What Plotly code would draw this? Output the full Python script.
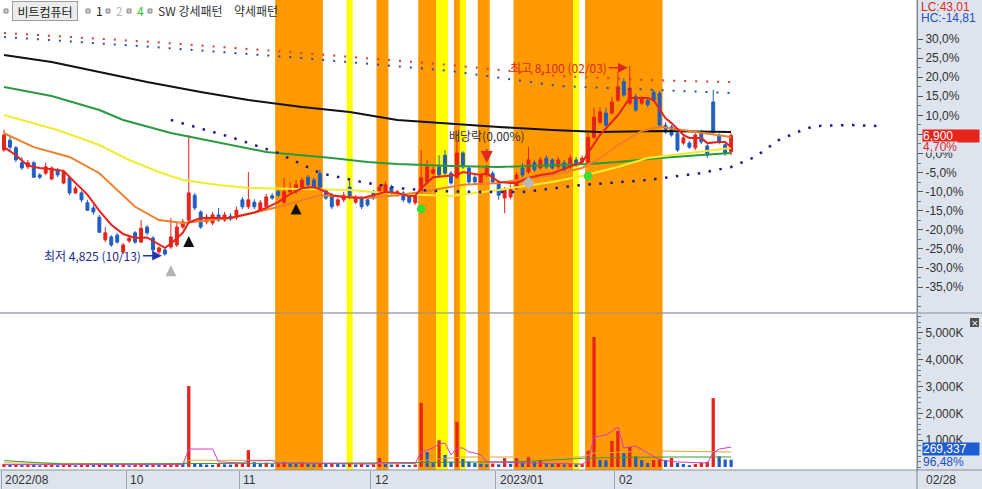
import plotly.graph_objects as go

# ---------------- data ----------------
month_labels = ["2022/08", "10", "11", "12", "2023/01", "02"]
month_start_idx = [0, 21, 40, 62, 83, 103]
last_date_label = "02/28"

opens = [6650, 6820, 6690, 6430, 6360, 6430, 6220, 6250, 6150, 6310,
         6080, 6170, 5910, 5910, 5740, 5650, 5490, 5100, 5150, 5180,
         4890, 5080, 5220, 5060, 5320, 5130, 4890, 4925, 4975, 5010,
         5320, 5440, 5870, 5580, 5410, 5390, 5530, 5440, 5510, 5480,
         5790, 5670, 5750, 5610, 5670, 5860, 5930, 5750, 5930, 5930,
         6010, 6180, 6130, 6250, 5960, 5870, 5700, 5790, 6010, 5750,
         5820, 5790, 5930, 5930, 5930, 6010, 5870, 5910, 5870, 5740,
         5930, 6100, 6250, 6360, 6560, 6250, 6180, 6600, 6340, 6180,
         6080, 6220, 6250, 6100, 5820, 5840, 5990, 6340, 6270, 6430,
         6340, 6510, 6480, 6360, 6430, 6360, 6480, 6440, 6440, 6870,
         7130, 7290, 7290, 7510, 7830, 7460, 7570, 7460, 7510, 7650,
         7630, 7080, 7050, 6940, 6770, 6770, 6690, 6960, 6720, 7480,
         6910, 6740, 6620]
highs = [7000, 6880, 6720, 6530, 6480, 6460, 6250, 6430, 6370, 6340,
         6310, 6200, 6030, 5940, 5790, 5700, 5530, 5320, 5180, 5220,
         5045, 5165, 5250, 5440, 5355, 5165, 4990, 4960, 5475, 5410,
         5460, 6910, 5910, 5610, 5545, 5580, 5650, 5580, 5560, 5670,
         5840, 6270, 5800, 5790, 5890, 5910, 5990, 6170, 6100, 6130,
         6180, 6220, 6170, 6310, 5990, 5910, 5820, 5930, 6130, 5870,
         5860, 5820, 5960, 6060, 6100, 6050, 5960, 5940, 5910, 5910,
         6650, 6480, 6360, 6560, 6650, 6290, 6820, 6630, 6370, 6220,
         6250, 6390, 6290, 6130, 6010, 6050, 6270, 6430, 6700, 6480,
         6530, 6560, 6510, 6530, 6480, 6560, 6530, 6560, 6940, 7380,
         7390, 7380, 7570, 8000, 7890, 8100, 7620, 7580, 7550, 7690,
         7670, 7130, 7080, 6980, 6890, 6810, 6940, 7000, 6750, 7690,
         6940, 6770, 6940]
lows = [6620, 6650, 6440, 6310, 6320, 6170, 6150, 6220, 6130, 6180,
        6060, 5870, 5890, 5750, 5600, 5530, 5220, 5060, 4975, 5030,
        4855, 5045, 5030, 5045, 5180, 4890, 4855, 4825, 4940, 4975,
        5285, 5410, 5610, 5290, 5370, 5355, 5410, 5410, 5425, 5440,
        5630, 5630, 5630, 5580, 5630, 5790, 5840, 5720, 5890, 5890,
        5980, 6010, 5960, 5980, 5790, 5630, 5670, 5750, 5800, 5720,
        5630, 5670, 5790, 5890, 5890, 5870, 5840, 5750, 5720, 5700,
        5890, 6060, 6220, 6180, 6220, 6050, 6150, 6320, 6060, 6060,
        6050, 6180, 6060, 5790, 5560, 5800, 5960, 6180, 6240, 6270,
        6310, 6320, 6310, 6320, 6270, 6320, 6360, 6410, 6410, 6840,
        7100, 7050, 7260, 7480, 7570, 7430, 7310, 7430, 7390, 7480,
        7050, 6930, 6880, 6620, 6740, 6670, 6650, 6750, 6510, 6930,
        6750, 6550, 6560]
closes = [6910, 6700, 6480, 6340, 6430, 6180, 6180, 6360, 6340, 6220,
          6270, 5910, 5990, 5790, 5610, 5580, 5230, 5220, 5010, 5060,
          5010, 5130, 5060, 5300, 5220, 4925, 4960, 4855, 5150, 5320,
          5410, 5910, 5650, 5320, 5490, 5530, 5440, 5530, 5460, 5610,
          5670, 5790, 5670, 5740, 5840, 5820, 5870, 5930, 5990, 6050,
          6130, 6050, 5990, 6010, 5820, 5670, 5790, 5870, 5840, 5840,
          5670, 5700, 5820, 6010, 6050, 5910, 5930, 5790, 5750, 5870,
          6170, 6360, 6310, 6220, 6250, 6080, 6600, 6360, 6100, 6100,
          6220, 6360, 6100, 5870, 5960, 5990, 6220, 6220, 6480, 6310,
          6480, 6360, 6340, 6480, 6310, 6510, 6390, 6510, 6870, 7220,
          7310, 7080, 7480, 7740, 7600, 7720, 7340, 7550, 7430, 7510,
          7080, 6960, 6910, 6650, 6860, 6700, 6910, 6790, 6560, 6960,
          6790, 6590, 6900]
volumes = [110000, 80000, 95000, 70000, 85000, 75000, 60000, 80000, 95000, 65000,
           70000, 100000, 60000, 75000, 85000, 70000, 120000, 100000, 110000, 70000,
           90000, 60000, 80000, 105000, 75000, 95000, 70000, 90000, 130000, 150000,
           120000, 3020000, 130000, 110000, 90000, 80000, 120000, 100000, 90000, 110000,
           150000, 630000, 180000, 130000, 160000, 110000, 120000, 190000, 150000, 130000,
           170000, 120000, 100000, 140000, 130000, 150000, 110000, 100000, 140000, 90000,
           110000, 80000, 100000, 336000, 110000, 90000, 100000, 80000, 70000, 90000,
           2390000, 560000, 150000, 1000000, 450000, 200000, 1680000, 300000, 200000, 150000,
           120000, 100000, 130000, 100000, 330000, 120000, 330000, 180000, 400000, 200000,
           260000, 150000, 120000, 140000, 100000, 120000, 100000, 110000, 600000, 4850000,
           260000, 250000, 970000, 1340000, 520000, 750000, 400000, 260000, 150000, 260000,
           300000, 260000, 340000, 150000, 110000, 70000, 110000, 150000, 190000, 2570000,
           400000, 280000, 269337]

# moving-average lines (index, price)
ma5_idx = [0, 2, 4, 6, 8, 10, 12, 14, 16, 18, 20, 22, 24, 26, 27, 28, 30, 31, 33, 38,
           42, 44, 46, 48, 50, 52, 54, 55, 57, 60, 64, 66, 68, 69, 70, 72, 76, 77, 80, 81,
           83, 85, 86, 88, 90, 92, 95, 97, 98, 100, 103, 105, 108, 109, 111, 112, 114, 115, 117, 118,
           120, 121, 122]
ma5_val = [6700, 6560, 6380, 6340, 6320, 6290, 6080, 5880, 5600, 5360, 5200, 5130, 5140, 5020, 4960, 5030, 5220, 5400, 5475, 5475,
           5570, 5650, 5750, 5890, 5990, 6010, 5930, 5870, 5840, 5820, 5925, 5910, 5850, 5860, 5990, 6180, 6220, 6270, 6220, 6250,
           6100, 6080, 6080, 6170, 6220, 6250, 6360, 6440, 6600, 6910, 7250, 7550, 7550, 7510, 7200, 7115, 6910, 6860, 6860, 6770,
           6790, 6790, 6700]
ma20_idx = [0, 5, 11, 16, 22, 26, 30, 38, 46, 53, 61, 66, 70, 77, 83, 92, 97, 100, 103, 107, 110, 114, 117, 122]
ma20_val = [6940, 6700, 6530, 6250, 5670, 5440, 5390, 5475, 5665, 5870, 5820, 5870, 5925, 6050, 6080, 6220, 6340, 6510, 6735, 6980, 7050, 6995, 6945, 6875]
ma60_idx = [0, 3, 9, 16, 21, 26, 30, 36, 41, 50, 58, 66, 75, 83, 92, 97, 103, 108, 115, 122]
ma60_val = [7255, 7170, 6996, 6737, 6478, 6270, 6132, 6046, 5994, 5977, 5960, 5890, 5856, 5960, 6098, 6201, 6357, 6512, 6599, 6685]
ma120_idx = [0, 8, 16, 20, 28, 38, 44, 55, 61, 66, 75, 83, 92, 98, 103, 110, 117, 122]
ma120_val = [7738, 7583, 7341, 7169, 6944, 6737, 6616, 6512, 6443, 6409, 6374, 6357, 6391, 6409, 6443, 6512, 6564, 6599]
ma240_idx = [0, 8, 16, 24, 33, 41, 50, 58, 66, 75, 83, 92, 100, 110, 122]
ma240_val = [8291, 8170, 7998, 7825, 7652, 7514, 7393, 7307, 7169, 7100, 7048, 6996, 6961, 6978, 6961]
env_red_idx = [0, 25, 50, 75, 93, 108, 122]
env_red_val = [8671, 8516, 8326, 8118, 7928, 7859, 7825]
env_blue_idx = [0, 25, 50, 75, 93, 108, 122]
env_blue_val = [8602, 8429, 8239, 8015, 7756, 7687, 7635]
lead_idx = [28, 38, 46, 53, 60, 66, 72, 80, 87, 97, 108, 117, 122, 126, 130, 134, 136, 142, 147]
lead_val = [7169, 6875, 6599, 6253, 6098, 5994, 5942, 5925, 5925, 6046, 6132, 6253, 6357, 6530, 6823, 6996, 7065, 7082, 7065]

# volume average lines (index, shares)
vma5_idx = [0, 30, 31, 35, 36, 40, 41, 45, 46, 62, 63, 69, 70, 72, 73, 74, 75, 76, 77, 78, 79, 80, 81,
            97, 98, 99, 101, 103, 104, 106, 108, 110, 113, 118, 119, 120, 122]
vma5_val = [90000, 90000, 670000, 671000, 190000, 150000, 230000, 240000, 150000, 110000, 160000, 140000, 560000, 709000, 858000, 895000, 448000, 709000, 709000, 560000, 522000, 448000, 187000,
            110000, 230000, 1119000, 1194000, 1492000, 709000, 783000, 522000, 261000, 187000, 150000, 522000, 671000, 742000]
vma20_idx = [0, 30, 31, 50, 51, 69, 70, 77, 97, 99, 110, 122]
vma20_val = [150000, 110000, 250000, 250000, 130000, 130000, 240000, 373000, 373000, 522000, 597000, 560000]
vma60_idx = [0, 10, 60, 70, 87, 98, 110, 122]
vma60_val = [235000, 112000, 150000, 160000, 200000, 336000, 373000, 373000]

# background pattern bands (index ranges)
strong_bands = [(46, 53), (63, 64), (70, 72), (76, 76), (80, 81), (86, 95), (98, 110)]
weak_bands = [(58, 58), (73, 74), (77, 77), (96, 96)]

# signal markers
buy_idx, buy_val = [31, 49], [5165, 5726]
low_mark_idx, low_mark_val = [28], [4660]
green_idx, green_val = [70, 98], [5632, 6201]
gray_idx, gray_val = [88], [6081]

prev_close = 6590
pct_ticks = [30, 25, 20, 15, 10, 5, 0, -5, -10, -15, -20, -25, -30, -35]
vol_ticks = [1000000, 2000000, 3000000, 4000000, 5000000]

# ---------------- styling ----------------
RED = "#e8231b"
BLUE = "#1f5fc4"
AXIS_BG = "#dde4ee"
W, H = 982, 489
ML, MR, MT, MB = 0, 65, 0, 19
PW, PH = W - ML - MR, H - MT - MB
XR = [-0.671, 153.19]


def xp(px):
    return px / PW


def yp(py):
    return 1 - py / PH


price_tickvals = [prev_close * (1 + p / 100) for p in pct_ticks]
price_ticktext = [f"{p:.1f}%".replace(".", ",") for p in pct_ticks]
minor_vals = [prev_close * (1 + (p - 2.5) / 100) for p in pct_ticks] + [prev_close * 0.6]
vol_ticktext = [f"{v // 1000:,}K" for v in vol_ticks]
vol_colors = [RED] + [RED if volumes[i] > volumes[i - 1] else BLUE for i in range(1, len(volumes))]
x_idx = list(range(len(closes)))

fig = go.Figure()

fig.add_trace(go.Candlestick(
    x=x_idx, open=opens, high=highs, low=lows, close=closes,
    increasing=dict(line=dict(color=RED, width=1), fillcolor=RED),
    decreasing=dict(line=dict(color=BLUE, width=1), fillcolor=BLUE),
    hoverinfo="skip", showlegend=False, xaxis="x", yaxis="y"))


def line(xs, ys, color, width=2, dash=None, axis=("x", "y")):
    fig.add_trace(go.Scatter(x=xs, y=ys, mode="lines",
                             line=dict(color=color, width=width, dash=dash),
                             hoverinfo="skip", showlegend=False,
                             xaxis=axis[0], yaxis=axis[1]))


line(env_red_idx, env_red_val, "#de3a34", 2, "2px,9px")
line(env_blue_idx, env_blue_val, "#2a4fae", 2, "2px,9px")
line(ma240_idx, ma240_val, "#111111", 2)
line(ma120_idx, ma120_val, "#2a9a3e", 2)
line(ma60_idx, ma60_val, "#f0ec30", 2)
line(ma20_idx, ma20_val, "#f07f2a", 2)
line(lead_idx, lead_val, "#1c1c8c", 2.5, "2.5px,8.5px")
line(ma5_idx, ma5_val, RED, 2)

fig.add_trace(go.Scatter(x=buy_idx, y=buy_val, mode="markers",
                         marker=dict(symbol="arrow-up", size=11, color="#111111"),
                         hoverinfo="skip", showlegend=False))
fig.add_trace(go.Scatter(x=low_mark_idx, y=low_mark_val, mode="markers",
                         marker=dict(symbol="arrow-up", size=11, color="#b4b4b4"),
                         hoverinfo="skip", showlegend=False))
fig.add_trace(go.Scatter(x=green_idx, y=green_val, mode="markers",
                         marker=dict(symbol="octagon", size=9, color="#35dd35"),
                         hoverinfo="skip", showlegend=False))
fig.add_trace(go.Scatter(x=gray_idx, y=gray_val, mode="markers",
                         marker=dict(symbol="diamond", size=10, color="#b8b8b8"),
                         hoverinfo="skip", showlegend=False))

fig.add_trace(go.Bar(x=x_idx, y=volumes, width=0.55, marker=dict(color=vol_colors, line=dict(width=0)),
                     hoverinfo="skip", showlegend=False, xaxis="x2", yaxis="y2"))
line(vma20_idx, vma20_val, "#e3a43a", 1, None, ("x2", "y2"))
line(vma60_idx, vma60_val, "#3d9a3d", 1, None, ("x2", "y2"))
line(vma5_idx, vma5_val, "#d23cc2", 1, None, ("x2", "y2"))

shapes = []
for a, b in strong_bands:
    shapes.append(dict(type="rect", xref="x", yref="paper", x0=a - 0.5, x1=b + 0.5, y0=0, y1=1,
                       fillcolor="#ff9900", line=dict(width=0), layer="below"))
for a, b in weak_bands:
    shapes.append(dict(type="rect", xref="x", yref="paper", x0=a - 0.5, x1=b + 0.5, y0=0, y1=1,
                       fillcolor="#ffff00", line=dict(width=0), layer="below"))
# frame lines
shapes.append(dict(type="line", xref="paper", yref="paper", x0=0, x1=W / PW, y0=yp(313), y1=yp(313),
                   line=dict(color="#8c8f96", width=1)))
shapes.append(dict(type="line", xref="paper", yref="paper", x0=1, x1=1, y0=-MB / PH, y1=1,
                   line=dict(color="#7d8796", width=1)))
shapes.append(dict(type="line", xref="paper", yref="paper", x0=0, x1=W / PW, y0=0, y1=0,
                   line=dict(color="#8c8f96", width=1)))
# header little squares
for px in [4, 86, 106, 127, 148]:
    shapes.append(dict(type="rect", xref="paper", yref="paper", x0=xp(px), x1=xp(px + 4),
                       y0=yp(13), y1=yp(9), fillcolor="#c9c9c9", line=dict(color="#8a8a8a", width=1)))
# close button of the volume pane
shapes.append(dict(type="rect", xref="paper", yref="paper", x0=xp(970), x1=xp(979),
                   y0=yp(327), y1=yp(318), fillcolor="#4d4d4d", line=dict(width=0)))

ann = []
KFONT = "Noto Sans CJK KR"
NFONT = "Liberation Sans"
for lab, idx in zip(month_labels, month_start_idx):
    ann.append(dict(x=idx - 0.5, xref="x2", y=0, yref="paper", yanchor="top", xanchor="left",
                    xshift=2, yshift=-1, text=lab, showarrow=False,
                    font=dict(family=NFONT, size=12, color="#333333")))
ann.append(dict(x=xp(924), xref="paper", y=0, yref="paper", yanchor="top", xanchor="left", yshift=-1,
                text=last_date_label, showarrow=False, font=dict(family=NFONT, size=12, color="#333333")))

# header
ann.append(dict(x=xp(12), xref="paper", y=yp(1), yref="paper", xanchor="left", yanchor="top",
                text="비트컴퓨터", showarrow=False, bgcolor="#ececec", bordercolor="#9d9d9d",
                borderwidth=1, borderpad=1, width=62, height=16,
                font=dict(family=KFONT, size=12, color="#222222")))
for txt, px, col in [("1", 94, "#222222"), ("2", 114, "#b9b9b9"), ("4", 135, "#2fbf2f"),
                     ("SW 강세패턴", 156, "#333333"), ("약세패턴", 232, "#333333")]:
    ann.append(dict(x=xp(px), xref="paper", y=yp(11), yref="paper", xanchor="left", yanchor="middle",
                    text=txt, showarrow=False, font=dict(family=KFONT, size=12, color=col)))

# right-side value labels
ann.append(dict(x=xp(919), xref="paper", y=yp(7), yref="paper", xanchor="left", yanchor="middle",
                text="LC:43,01", showarrow=False, font=dict(family=NFONT, size=12, color="#e0281e")))
ann.append(dict(x=xp(919), xref="paper", y=yp(18), yref="paper", xanchor="left", yanchor="middle",
                text="HC:-14,81", showarrow=False, font=dict(family=NFONT, size=12, color="#1f4fc0")))
ann.append(dict(x=xp(922), xref="paper", y=closes[-1], yref="y", xanchor="left", yanchor="middle",
                text=f"{closes[-1]:,}", showarrow=False, bgcolor="#e8231b", width=56, height=12,
                align="left", borderpad=0, font=dict(family=NFONT, size=12, color="white")))
ann.append(dict(x=xp(922), xref="paper", y=yp(147), yref="paper", xanchor="left", yanchor="middle",
                text=f"{(closes[-1] / prev_close - 1) * 100:.2f}%".replace(".", ","), showarrow=False,
                bgcolor=AXIS_BG, height=10, borderpad=0, font=dict(family=NFONT, size=12, color="#e0281e")))
ann.append(dict(x=xp(922), xref="paper", y=yp(449), yref="paper", xanchor="left", yanchor="middle",
                text=f"{volumes[-1]:,}", showarrow=False, bgcolor="#1f5cd2", width=56, height=12,
                align="left", borderpad=0, font=dict(family=NFONT, size=12, color="white")))
ann.append(dict(x=xp(922), xref="paper", y=yp(462), yref="paper", xanchor="left", yanchor="middle",
                text="96,48%", showarrow=False, bgcolor=AXIS_BG, height=10, borderpad=0,
                font=dict(family=NFONT, size=12, color="#1f4fc0")))
ann.append(dict(x=xp(974.5), xref="paper", y=yp(322.5), yref="paper", xanchor="center", yanchor="middle",
                text="×", showarrow=False, font=dict(family="DejaVu Sans", size=9, color="white")))

# chart annotations
hi_i = highs.index(max(highs))
lo_i = lows.index(min(lows))
ann.append(dict(x=hi_i, y=max(highs) - 30, xref="x", yref="y", ax=-71, ay=0,
                text=f"최고 {max(highs):,} (02/03)", showarrow=True, arrowhead=2, arrowsize=1.3,
                arrowwidth=1.5, arrowcolor="#e0281e", standoff=2,
                font=dict(family=KFONT, size=12, color="#e0281e")))
ann.append(dict(x=lo_i, y=min(lows), xref="x", yref="y", ax=-72, ay=0,
                text=f"최저 {min(lows):,} (10/13)", showarrow=True, arrowhead=2, arrowsize=1.3,
                arrowwidth=1.5, arrowcolor="#2233b0", standoff=3,
                font=dict(family=KFONT, size=12, color="#1c2a8c")))
ann.append(dict(x=81, y=6426, xref="x", yref="y", ax=0, ay=-28,
                text="배당락(0,00%)", showarrow=True, arrowhead=2, arrowsize=1.6,
                arrowwidth=1.5, arrowcolor="#e0281e", startstandoff=4,
                font=dict(family=KFONT, size=12, color="#333333")))

axis_font = dict(family=NFONT, size=12, color="#333333")
fig.update_layout(
    width=W, height=H, margin=dict(l=ML, r=MR, t=MT, b=MB),
    paper_bgcolor=AXIS_BG, plot_bgcolor="white", showlegend=False, boxgap=0.3,
    shapes=shapes, annotations=ann,
    xaxis=dict(domain=[0, 1], range=XR, showticklabels=False, ticks="", showgrid=False,
               zeroline=False, rangeslider=dict(visible=False), anchor="y"),
    yaxis=dict(domain=[yp(312), 1], range=[3853, 9241], side="right", tickvals=price_tickvals,
               ticktext=price_ticktext, ticks="outside", ticklen=5, tickcolor="#555555",
               minor=dict(tickvals=minor_vals, ticks="outside", ticklen=3, tickcolor="#777777"),
               showgrid=False, zeroline=False, showline=True, linecolor="#7d8796",
               tickfont=axis_font, anchor="x"),
    xaxis2=dict(domain=[0, 1], range=XR, anchor="y2", tickvals=[i - 0.5 for i in month_start_idx],
                ticks="outside", ticklen=MB, tickcolor="#9aa4b3", showticklabels=False,
                showgrid=False, zeroline=False),
    yaxis2=dict(domain=[0, yp(314)], range=[-112000, 5707000], side="right", tickvals=vol_ticks,
                ticktext=vol_ticktext, ticks="outside", ticklen=5, tickcolor="#555555",
                minor=dict(dtick=200000, ticks="outside", ticklen=3, tickcolor="#777777"),
                showgrid=False, zeroline=False, showline=True, linecolor="#7d8796",
                tickfont=axis_font, anchor="x2"),
)

fig.write_html("out.html", config={"staticPlot": True},
               post_script="document.body.style.margin='0';document.body.style.padding='0';"
                           "document.body.style.overflow='hidden';")
